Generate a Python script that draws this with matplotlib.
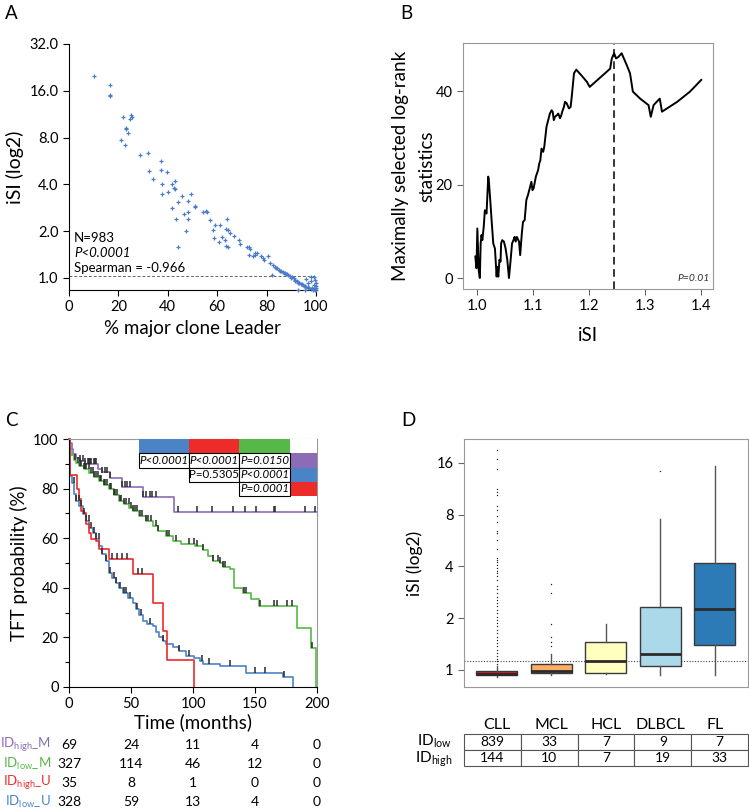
import numpy as np
import matplotlib
matplotlib.use("Agg")
import matplotlib.pyplot as plt
import matplotlib.transforms as mtransforms
from matplotlib.patches import Rectangle
from matplotlib.ticker import FormatStrFormatter, NullLocator, MultipleLocator

plt.rcParams['font.family'] = ['Lato', 'DejaVu Sans']
plt.rcParams['mathtext.fontset'] = 'custom'
plt.rcParams['mathtext.rm'] = 'Lato'
plt.rcParams['mathtext.it'] = 'Lato:italic'
plt.rcParams['mathtext.default'] = 'regular'

# ---------------- data ----------------
# A: % major clone leader vs iSI
A_x = [10.1, 16.4, 16.7, 16.4, 21.8, 20.9, 22.6, 22.9, 23.2, 23.9,
       24.5, 25.2, 25.6, 28.8, 31.8, 32.3, 34.2, 37.2, 37.2, 37.7,
       37.7, 39.6, 40.2, 41.6, 42.6, 42.9, 43.1, 41.8, 43.4, 44.1,
       45.6, 46.5, 47.2, 44.3, 48.1, 48.1, 48.1, 49.3, 50.9, 51.2,
       54.4, 55.3, 55.8, 56.9, 58.4, 59.3, 61.2, 58.6, 60.6, 61.9,
       63.2, 63.6, 64.2, 64.0, 63.6, 64.2, 65.2, 67.0, 68.7, 69.3,
       72.0, 72.8, 73.3, 72.8, 74.4, 75.2, 75.5, 76.0, 77.9, 78.4,
       79.1, 80.6, 82.2]
A_y = [19.9, 17.5, 15.1, 14.9, 10.9, 7.74, 7.19, 9.25, 9.06, 8.58,
       10.6, 11.2, 10.9, 6.14, 6.38, 4.87, 4.35, 5.67, 4.91, 4.04,
       3.45, 4.82, 3.58, 4.0, 3.78, 3.71, 4.22, 2.82, 2.38, 3.09,
       3.36, 2.56, 1.99, 1.57, 3.12, 2.64, 2.4, 3.48, 2.89, 2.84,
       2.67, 2.7, 2.67, 2.35, 2.03, 2.18, 2.18, 1.81, 1.71, 1.83,
       1.74, 1.61, 1.58, 2.4, 2.07, 2.02, 1.95, 1.87, 1.74, 1.64,
       1.58, 1.58, 1.54, 1.4, 1.38, 1.4, 1.45, 1.45, 1.38, 1.35,
       1.30, 1.38, 1.04]
A_tail_x = [81.4, 82.5, 83.3, 84.1, 84.9, 85.8, 86.5, 87.3, 87.9, 88.7,
            89.5, 90.3, 91.1, 91.6, 92.2, 92.7, 93.3, 93.9, 94.6, 95.3,
            96.0, 96.6, 97.3, 98.0, 98.6, 99.2, 99.7, 100.0,
            83.8, 85.3, 86.9, 88.2, 89.9, 91.4, 92.9, 94.2, 95.6, 96.9,
            98.3, 99.4, 100.0, 98.0, 96.0, 99.0, 92.6, 95.7, 98.7, 100.0,
            99.7, 99.3, 96.6, 97.8, 99.8]
A_tail_y = [1.25, 1.21, 1.18, 1.15, 1.13, 1.11, 1.09, 1.08, 1.06, 1.04,
            1.03, 1.01, 0.99, 0.96, 0.96, 0.94, 0.93, 0.91, 0.90, 0.88,
            0.875, 0.87, 0.86, 0.85, 0.85, 0.845, 0.84, 0.84,
            1.16, 1.10, 1.07, 1.05, 1.0, 0.97, 0.93, 0.905, 0.88, 0.865,
            0.855, 0.85, 0.86, 1.005, 0.985, 1.01, 0.84, 0.84, 0.84, 0.92,
            0.965, 0.90, 0.92, 0.95, 0.88]

# B: maximally selected log-rank statistics
B_isi = [0.997, 0.999, 1.0006, 1.003, 1.005, 1.0065, 1.008, 1.0095, 1.012, 1.014,
         1.017, 1.020, 1.021, 1.024, 1.026, 1.029, 1.032, 1.035, 1.036, 1.038,
         1.040, 1.042, 1.043, 1.045, 1.048, 1.051, 1.054, 1.057, 1.060, 1.0625,
         1.065, 1.067, 1.069, 1.071, 1.075, 1.077, 1.080, 1.082, 1.085, 1.088,
         1.091, 1.094, 1.097, 1.099, 1.101, 1.105, 1.109, 1.111, 1.113, 1.115,
         1.118, 1.120, 1.124, 1.127, 1.130, 1.133, 1.135, 1.137, 1.139, 1.143,
         1.145, 1.148, 1.150, 1.152, 1.155, 1.157, 1.160, 1.164, 1.167, 1.169,
         1.173, 1.177, 1.186, 1.196, 1.201, 1.2375, 1.2405, 1.2446, 1.248, 1.252,
         1.258, 1.267, 1.273, 1.278, 1.291, 1.306, 1.310, 1.315, 1.326, 1.330,
         1.357, 1.380, 1.400]
B_stat = [4.6, 2.1, 10.6, 1.7, 0.0, 7.4, 9.2, 8.1, 11.0, 14.5,
          13.8, 21.7, 21.0, 16.0, 12.4, 7.4, 6.3, 0.3, 2.4, 0.3,
          3.9, 3.5, 7.4, 8.1, 7.8, 6.3, 3.9, 0.0, 3.9, 7.4,
          8.1, 8.8, 7.8, 8.8, 7.8, 4.9, 9.6, 12.0, 12.4, 16.7,
          17.8, 19.2, 20.6, 18.8, 19.2, 21.7, 23.1, 24.5, 25.2, 27.7,
          27.0, 28.1, 32.4, 33.8, 35.2, 35.9, 35.6, 33.8, 34.5, 34.9,
          35.2, 34.2, 34.7, 35.6, 36.6, 37.7, 37.4, 36.3, 36.6, 38.8,
          43.8, 44.6, 43.4, 42.0, 40.9, 44.8, 47.0, 48.1, 47.0, 47.3,
          48.1, 45.6, 43.8, 39.9, 38.4, 37.0, 34.5, 37.0, 38.4, 35.6,
          37.7, 39.9, 42.4]
B_cutoff = 1.2435

# C: Kaplan-Meier curves (time in months, TFT probability %)
km_purple_t = [0, 1, 2.5, 3.5, 6, 8.5, 12.5, 23, 27, 33, 42.5, 59.4, 85]
km_purple_s = [100, 98.5, 95.8, 93.8, 92.3, 91, 89.8, 88, 86.5, 84.3, 80.8, 76.8, 70.7]
km_purple_end = 200
km_purple_cens = [9, 11, 13, 15, 16, 17, 18, 20, 21, 22, 27, 29, 31, 33, 43, 45, 47, 49,
                  60, 62, 65, 67, 70, 88, 103, 115, 132, 142, 151, 165, 166, 190, 198]

km_green_t = [0, 0.5, 2, 4, 6, 8.3, 12, 16.4, 20, 24.5,
              28, 32.5, 36, 40.6, 44, 48.7, 52, 56.7, 62, 67.5,
              72, 78, 84, 90, 101.6, 108, 112, 116, 121.7, 124,
              130, 133, 140, 146.6, 153, 184, 195, 199.5]
km_green_s = [100, 96, 93.5, 91.5, 90.5, 89, 87.8, 86.4, 84.8, 83,
              81.5, 79.7, 77.5, 75, 73.8, 72.3, 70.8, 69, 67, 64.9,
              63, 60.9, 59, 57.5, 56.8, 55.4, 52.8, 50.8, 50.2, 48.2,
              47.5, 40, 38, 35.3, 32.6, 23.9, 15.8, 0]
km_green_cens = [5, 7, 9, 10, 12, 13, 14, 16, 18, 19, 20, 22, 23, 25, 26, 28, 29, 31, 33,
                 34, 36, 37, 39, 41, 42, 44, 46, 48, 50, 52, 53, 55, 57, 59, 62, 64, 66,
                 70, 72, 79, 81, 86, 97, 101, 103, 108, 116, 120, 122, 124, 126, 141,
                 143, 154, 165, 168, 176, 180, 196]

km_red_t = [0, 0.8, 6.2, 8.3, 9.7, 12.4, 13.7, 16.4, 17.7, 21.8, 23.9, 32.5, 51.3, 68, 75.5, 78.8, 101]
km_red_s = [100, 85.3, 79.7, 76, 71, 70.3, 65.6, 62.2, 59.5, 58.9, 55.5, 51.5, 45.6, 34, 22.7, 10.9, 0]
km_red_cens = [35, 39, 43, 47, 56, 59]

km_blue_t = [0, 0.5, 1.2, 2.4, 4.3, 5.6, 8.3, 11, 13.7, 16.4,
             19, 21.8, 24.5, 27, 29.8, 32.5, 35, 37.9, 40.5, 43.3,
             47.3, 51.3, 54, 56.5, 59.4, 63, 67.5, 70, 72.8, 75.5,
             78.2, 83.6, 89, 94.4, 101, 105.6, 108, 121.7, 143, 172.8, 181]
km_blue_s = [100, 90, 85, 82.4, 77.7, 75, 73, 69.6, 67, 64.2,
             62.2, 59.5, 56.9, 53.5, 50.8, 46, 44, 42, 40, 38,
             36, 34, 31.4, 29, 26.7, 25.5, 24.7, 22, 20, 18.5,
             17.3, 16, 14.6, 12.6, 11.7, 10.5, 9.2, 8.5, 5.8, 4.2, 0]
km_blue_cens = [4, 6, 8, 10, 12, 14, 16, 18, 20, 22, 24, 27, 30, 33, 36, 38, 41, 44,
                46, 49, 55, 58, 65, 76, 89, 97, 107, 113, 130, 150, 158, 173]

risk_labels = ["ID$_{high}$_M", "ID$_{low}$_M", "ID$_{high}$_U", "ID$_{low}$_U"]
risk_times = [0, 50, 100, 150, 200]
risk_counts = [[69, 24, 11, 4, 0],
               [327, 114, 46, 12, 0],
               [35, 8, 1, 0, 0],
               [328, 59, 13, 4, 0]]

pval_rows = [["P<0.0001", "P<0.0001", "P=0.0150"],
             ["", "P=0.5305", "P<0.0001"],
             ["", "", "P=0.0001"]]
pval_italic = [[True, True, True], [False, False, True], [False, False, True]]

# D: iSI by entity
entities = ["CLL", "MCL", "HCL", "DLBCL", "FL"]
box_med = [0.95, 0.99, 1.13, 1.24, 2.27]
box_q1 = [0.93, 0.957, 0.957, 1.06, 1.39]
box_q3 = [0.99, 1.08, 1.45, 2.32, 4.17]
box_lo = [0.91, 0.935, 0.95, 0.935, 0.935]
box_hi = [1.06, 1.24, 1.85, 7.55, 15.4]
fliers_cll = [19.1, 16.9, 14.7, 11.2, 10.8, 10.4, 9.0, 8.5, 7.8, 7.2, 6.45, 6.25, 5.72,
              5.04, 4.47, 4.37, 4.22, 4.09, 3.91, 3.74, 3.66, 3.5, 3.34, 3.06, 2.95,
              2.8, 2.67, 2.56, 2.44, 2.34, 2.24, 2.14, 2.04, 1.95, 1.87, 1.79, 1.71,
              1.63, 1.56, 1.5, 1.43, 1.37, 1.31, 1.25, 1.2, 1.16, 1.12, 1.08]
fliers_mcl = [1.37, 1.46, 1.56, 1.84, 2.8, 3.15]
fliers_dlbcl = [14.3]
id_low = [839, 33, 7, 9, 7]
id_high = [144, 10, 7, 19, 33]
D_threshold = 1.12

# ---------------- figure ----------------
W, H = 749, 809
fig = plt.figure(figsize=(W / 100, H / 100), dpi=100)
fig.patch.set_facecolor('white')

def box(l, t, r, b):
    return [l / W, 1 - b / H, (r - l) / W, (b - t) / H]

purple = '#8B6DB5'
green = '#56B947'
red = '#EE2B2B'
blue = '#4A84C6'

# ---- Panel A ----
ax = fig.add_axes(box(69, 44, 316, 290))
ax.scatter(A_x + A_tail_x, A_y + A_tail_y, marker='+', s=9, lw=0.9,
           color='#4A7CC9', clip_on=False, zorder=3)
ax.set_yscale('log', base=2)
ax.set_ylim(0.834, 32)
ax.set_xlim(0, 100)
ax.set_yticks([1, 2, 4, 8, 16, 32])
ax.yaxis.set_major_formatter(FormatStrFormatter('%.1f'))
ax.yaxis.set_minor_locator(NullLocator())
ax.set_xticks([0, 20, 40, 60, 80, 100])
ax.axhline(1.03, ls=(0, (3, 2)), color='#666666', lw=0.7)
for s in ['top', 'right']:
    ax.spines[s].set_visible(False)
ax.tick_params(direction='out', length=4, width=0.8, labelsize=10.5)
ax.set_ylabel('iSI (log2)', fontsize=14, labelpad=4)
ax.set_xlabel('% major clone Leader', fontsize=13.5, labelpad=4)
ax.text(0.02, 0.21, 'N=983', transform=ax.transAxes, fontsize=9.5, va='center')
ax.text(0.02, 0.15, 'P<0.0001', transform=ax.transAxes, fontsize=9.5, va='center', style='italic')
ax.text(0.02, 0.089, 'Spearman = -0.966', transform=ax.transAxes, fontsize=9.5, va='center')

# ---- Panel B ----
ax = fig.add_axes(box(463, 43, 713, 289))
ax.plot(B_isi, B_stat, color='black', lw=1.4)
ax.axvline(B_cutoff, color='black', lw=1.1, ls=(0, (5, 3)))
ax.set_xlim(0.975, 1.421)
ax.set_ylim(-2.35, 50.3)
ax.set_xticks([1.0, 1.1, 1.2, 1.3, 1.4])
ax.xaxis.set_major_formatter(FormatStrFormatter('%.1f'))
ax.set_yticks([0, 20, 40])
for s in ax.spines.values():
    s.set_color('#999999')
ax.tick_params(direction='out', length=4, width=0.8, labelsize=10.5, color='#666666')
ax.set_ylabel('Maximally selected log-rank\nstatistics', fontsize=13.5, labelpad=0,
              linespacing=1.65)
ax.set_xlabel('iSI', fontsize=13.5, labelpad=10)
ax.text(0.985, 0.025, 'P=0.01', transform=ax.transAxes, fontsize=7.5, style='italic',
        ha='right', va='bottom', color='#333333')

# ---- Panel C ----
ax = fig.add_axes(box(69, 439, 317, 687))

def surv_at(ts, ss, t):
    idx = np.searchsorted(ts, t, side='right') - 1
    return np.asarray(ss)[idx]

curves = [(km_purple_t + [km_purple_end], km_purple_s + [km_purple_s[-1]], km_purple_cens, purple),
          (km_green_t, km_green_s, km_green_cens, green),
          (km_blue_t, km_blue_s, km_blue_cens, blue),
          (km_red_t, km_red_s, km_red_cens, red)]
for ts, ss, cens, col in curves:
    ax.step(ts, ss, where='post', color=col, lw=1.2, clip_on=False, zorder=2)
    ax.plot(cens, surv_at(ts, ss, cens) + 1.2, ls='none', marker='|', ms=5, mew=1.1,
            color='#2a2a2a', zorder=3)
ax.set_xlim(0, 200)
ax.set_ylim(0, 100)
ax.set_xticks([0, 50, 100, 150, 200])
ax.set_yticks([0, 20, 40, 60, 80, 100])
ax.yaxis.set_minor_locator(MultipleLocator(10))
ax.tick_params(which='both', direction='out', width=0.8, labelsize=10.5)
ax.tick_params(which='major', length=4)
ax.tick_params(which='minor', length=3)
ax.spines['top'].set_color('#999999')
ax.spines['right'].set_color('#999999')
ax.set_ylabel('TFT probability (%)', fontsize=13.5, labelpad=4)
ax.set_xlabel('Time (months)', fontsize=13.5, labelpad=1)

# p-value table
col_x = [56.2, 97, 137.3, 178.2, 200]
row_y = [100, 94.2, 88.4, 82.8, 77.1]
head_cols = [blue, red, green, 'white']
for j, c in enumerate(head_cols):
    ax.add_patch(Rectangle((col_x[j], row_y[1]), col_x[j + 1] - col_x[j], row_y[0] - row_y[1],
                           facecolor=c, edgecolor='none', zorder=5, clip_on=False))
side_cols = [purple, blue, red]
for i in range(3):
    y0, y1 = row_y[i + 2], row_y[i + 1]
    ax.add_patch(Rectangle((col_x[3], y0), col_x[4] - col_x[3], y1 - y0,
                           facecolor=side_cols[i], edgecolor='none', zorder=5))
    for j in range(3):
        txt = pval_rows[i][j]
        if not txt:
            continue
        ax.add_patch(Rectangle((col_x[j], y0), col_x[j + 1] - col_x[j], y1 - y0,
                               facecolor='white', edgecolor='black', lw=0.8, zorder=5))
        ax.text((col_x[j] + col_x[j + 1]) / 2, (y0 + y1) / 2, txt, ha='center', va='center',
                fontsize=8.3, style='italic' if pval_italic[i][j] else 'normal', zorder=6)

# number at risk
trans = mtransforms.blended_transform_factory(ax.transData, fig.transFigure)
risk_y = [1 - 745 / H, 1 - 764 / H, 1 - 783 / H, 1 - 802 / H]
risk_cols = [purple, green, red, blue]
for i in range(4):
    fig.text(51 / W, risk_y[i], risk_labels[i], color=risk_cols[i], ha='right', va='center',
             fontsize=9.5)
    for j, t in enumerate(risk_times):
        ax.text(t, risk_y[i], str(risk_counts[i][j]), transform=trans, ha='center',
                va='center', fontsize=10)

# ---- Panel D ----
ax = fig.add_axes(box(464, 439, 748, 687))
box_cols = ['#D7191C', '#FDAE61', '#FFFFBF', '#ABD9E9', '#2C7BB6']
all_fliers = [fliers_cll, fliers_mcl, [], fliers_dlbcl, []]
stats = []
for k in range(5):
    stats.append(dict(med=box_med[k], q1=box_q1[k], q3=box_q3[k], whislo=box_lo[k],
                      whishi=box_hi[k], fliers=all_fliers[k], label=entities[k]))
pos = np.arange(1, 6)
bp = ax.bxp(stats, positions=pos, widths=0.75, patch_artist=True, showcaps=False,
            boxprops=dict(edgecolor='#3a3a3a', lw=1.0),
            medianprops=dict(color='#2a2a2a', lw=2.0),
            whiskerprops=dict(color='#555555', lw=1.0),
            flierprops=dict(marker='.', ms=2.0, mfc='#222222', mec='none'))
for patch, c in zip(bp['boxes'], box_cols):
    patch.set_facecolor(c)
ax.axhline(D_threshold, color='#444444', lw=0.8, ls=(0, (1, 1.5)), zorder=0)
ax.set_yscale('log', base=2)
ax.set_ylim(0.796, 22)
ax.set_xlim(0.40, 5.61)
ax.set_yticks([1, 2, 4, 8, 16])
ax.yaxis.set_major_formatter(FormatStrFormatter('%d'))
ax.yaxis.set_minor_locator(NullLocator())
ax.set_xticks(pos)
ax.set_xticklabels(entities, fontsize=11.5)
ax.tick_params(axis='x', length=0, pad=22)
ax.tick_params(axis='y', direction='out', length=4, width=0.8, labelsize=10.5, color='#666666')
for s in ax.spines.values():
    s.set_color('#999999')
ax.set_ylabel('iSI (log2)', fontsize=12.5, labelpad=10)

ax_t = fig.add_axes(box(464, 734, 748, 766))
ax_t.axis('off')
tbl = ax_t.table(cellText=[[str(v) for v in id_low], [str(v) for v in id_high]],
                 cellLoc='center', bbox=[0, 0, 1, 1])
tbl.auto_set_font_size(False)
tbl.set_fontsize(10)
for cell in tbl.get_celld().values():
    cell.set_edgecolor('#555555')
    cell.set_linewidth(0.8)
fig.text(452 / W, 1 - 741 / H, 'ID$_{low}$', ha='right', va='center', fontsize=11)
fig.text(452 / W, 1 - 759 / H, 'ID$_{high}$', ha='right', va='center', fontsize=11)

# panel letters
for letter, x, y in [('A', 5, 5), ('B', 400, 5), ('C', 5, 412), ('D', 401, 412)]:
    fig.text(x / W, 1 - y / H, letter, fontsize=13.5, ha='left', va='top')

fig.savefig('out.png', dpi=100)
